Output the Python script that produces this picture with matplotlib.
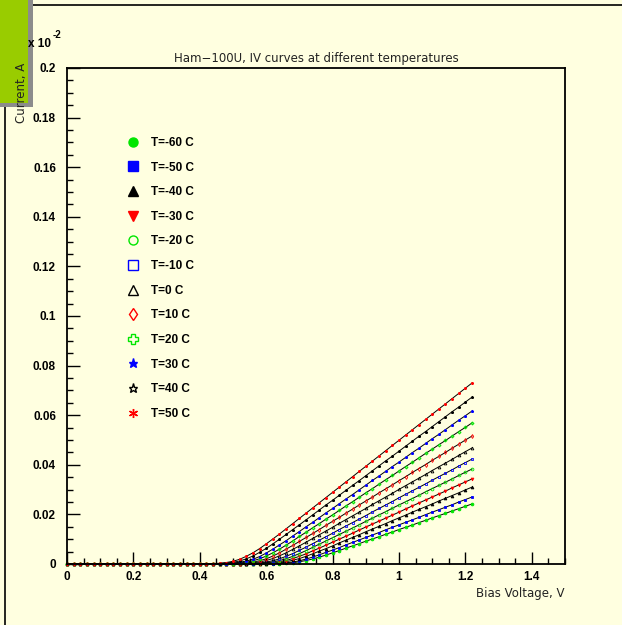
import matplotlib.pyplot as plt
from matplotlib.lines import Line2D
from matplotlib.patches import Rectangle
from matplotlib.ticker import MultipleLocator, FormatStrFormatter

# bias scan points, V
bias_v = [
    0.00, 0.02, 0.04, 0.06, 0.08, 0.10, 0.12, 0.14, 0.16, 0.18,
    0.20, 0.22, 0.24, 0.26, 0.28, 0.30, 0.32, 0.34, 0.36, 0.38,
    0.40, 0.42, 0.44, 0.46, 0.48, 0.50, 0.52, 0.54, 0.56, 0.58,
    0.60, 0.62, 0.64, 0.66, 0.68, 0.70, 0.72, 0.74, 0.76, 0.78,
    0.80, 0.82, 0.84, 0.86, 0.88, 0.90, 0.92, 0.94, 0.96, 0.98,
    1.00, 1.02, 1.04, 1.06, 1.08, 1.10, 1.12, 1.14, 1.16, 1.18,
    1.20, 1.22,
]

# current in units of 1e-2 A, one list per temperature
cur_m60 = [
    0, 0, 0, 0, 0, 0, 0, 0, 0, 0,
    0, 0, 0, 0, 0, 0, 0, 0, 0, 0,
    0, 0, 0, 0, 0, 0, 0, 0, 0, 0,
    0, 0.0001, 0.0002, 0.0003, 0.0005, 0.0009, 0.0014, 0.0020, 0.0028, 0.0036,
    0.0045, 0.0054, 0.0064, 0.0073, 0.0082, 0.0092, 0.0101, 0.0110, 0.0120, 0.0129,
    0.0139, 0.0148, 0.0157, 0.0167, 0.0176, 0.0186, 0.0195, 0.0204, 0.0214, 0.0223,
    0.0233, 0.0242,
]
cur_m50 = [
    0, 0, 0, 0, 0, 0, 0, 0, 0, 0,
    0, 0, 0, 0, 0, 0, 0, 0, 0, 0,
    0, 0, 0, 0, 0, 0, 0, 0, 0, 0,
    0.0001, 0.0001, 0.0003, 0.0005, 0.0008, 0.0013, 0.0020, 0.0028, 0.0037, 0.0047,
    0.0056, 0.0066, 0.0077, 0.0087, 0.0097, 0.0107, 0.0117, 0.0127, 0.0138, 0.0148,
    0.0158, 0.0168, 0.0178, 0.0188, 0.0199, 0.0209, 0.0219, 0.0229, 0.0239, 0.0250,
    0.0260, 0.0270,
]
cur_m40 = [
    0, 0, 0, 0, 0, 0, 0, 0, 0, 0,
    0, 0, 0, 0, 0, 0, 0, 0, 0, 0,
    0, 0, 0, 0, 0, 0, 0, 0, 0, 0.0001,
    0.0002, 0.0003, 0.0005, 0.0009, 0.0015, 0.0022, 0.0031, 0.0041, 0.0052, 0.0062,
    0.0073, 0.0085, 0.0096, 0.0107, 0.0118, 0.0130, 0.0141, 0.0152, 0.0163, 0.0175,
    0.0186, 0.0197, 0.0209, 0.0220, 0.0231, 0.0242, 0.0254, 0.0265, 0.0276, 0.0287,
    0.0299, 0.0310,
]
cur_m30 = [
    0, 0, 0, 0, 0, 0, 0, 0, 0, 0,
    0, 0, 0, 0, 0, 0, 0, 0, 0, 0,
    0, 0, 0, 0, 0, 0, 0, 0, 0.0001, 0.0001,
    0.0003, 0.0005, 0.0009, 0.0014, 0.0022, 0.0031, 0.0041, 0.0053, 0.0064, 0.0076,
    0.0088, 0.0100, 0.0112, 0.0124, 0.0137, 0.0149, 0.0161, 0.0173, 0.0185, 0.0197,
    0.0209, 0.0222, 0.0234, 0.0246, 0.0258, 0.0270, 0.0282, 0.0294, 0.0307, 0.0319,
    0.0331, 0.0343,
]
cur_m20 = [
    0, 0, 0, 0, 0, 0, 0, 0, 0, 0,
    0, 0, 0, 0, 0, 0, 0, 0, 0, 0,
    0, 0, 0, 0, 0, 0, 0, 0.0001, 0.0001, 0.0003,
    0.0005, 0.0008, 0.0014, 0.0021, 0.0031, 0.0042, 0.0054, 0.0067, 0.0080, 0.0093,
    0.0106, 0.0119, 0.0132, 0.0145, 0.0158, 0.0172, 0.0185, 0.0198, 0.0211, 0.0225,
    0.0238, 0.0251, 0.0264, 0.0277, 0.0291, 0.0304, 0.0317, 0.0330, 0.0343, 0.0357,
    0.0370, 0.0383,
]
cur_m10 = [
    0, 0, 0, 0, 0, 0, 0, 0, 0, 0,
    0, 0, 0, 0, 0, 0, 0, 0, 0, 0,
    0, 0, 0, 0, 0, 0, 0.0001, 0.0001, 0.0002, 0.0004,
    0.0008, 0.0013, 0.0021, 0.0031, 0.0042, 0.0055, 0.0068, 0.0082, 0.0096, 0.0110,
    0.0124, 0.0139, 0.0153, 0.0167, 0.0181, 0.0195, 0.0210, 0.0224, 0.0238, 0.0252,
    0.0267, 0.0281, 0.0295, 0.0309, 0.0323, 0.0338, 0.0352, 0.0366, 0.0380, 0.0395,
    0.0409, 0.0423,
]
cur_0 = [
    0, 0, 0, 0, 0, 0, 0, 0, 0, 0,
    0, 0, 0, 0, 0, 0, 0, 0, 0, 0,
    0, 0, 0, 0, 0, 0.0001, 0.0001, 0.0002, 0.0005, 0.0008,
    0.0014, 0.0022, 0.0033, 0.0045, 0.0059, 0.0073, 0.0088, 0.0103, 0.0118, 0.0133,
    0.0148, 0.0164, 0.0179, 0.0194, 0.0209, 0.0224, 0.0240, 0.0255, 0.0270, 0.0285,
    0.0301, 0.0316, 0.0331, 0.0346, 0.0361, 0.0377, 0.0392, 0.0407, 0.0422, 0.0438,
    0.0453, 0.0468,
]
cur_p10 = [
    0, 0, 0, 0, 0, 0, 0, 0, 0, 0,
    0, 0, 0, 0, 0, 0, 0, 0, 0, 0,
    0, 0, 0, 0, 0.0001, 0.0001, 0.0002, 0.0004, 0.0008, 0.0013,
    0.0021, 0.0032, 0.0045, 0.0060, 0.0075, 0.0091, 0.0107, 0.0123, 0.0139, 0.0156,
    0.0172, 0.0188, 0.0205, 0.0221, 0.0238, 0.0254, 0.0270, 0.0287, 0.0303, 0.0319,
    0.0336, 0.0352, 0.0369, 0.0385, 0.0401, 0.0418, 0.0434, 0.0450, 0.0467, 0.0483,
    0.0500, 0.0516,
]
cur_p20 = [
    0, 0, 0, 0, 0, 0, 0, 0, 0, 0,
    0, 0, 0, 0, 0, 0, 0, 0, 0, 0,
    0, 0, 0, 0.0001, 0.0001, 0.0002, 0.0004, 0.0007, 0.0013, 0.0021,
    0.0032, 0.0045, 0.0060, 0.0076, 0.0093, 0.0111, 0.0128, 0.0146, 0.0163, 0.0181,
    0.0198, 0.0216, 0.0234, 0.0251, 0.0269, 0.0287, 0.0304, 0.0322, 0.0340, 0.0357,
    0.0375, 0.0393, 0.0410, 0.0428, 0.0446, 0.0463, 0.0481, 0.0498, 0.0516, 0.0534,
    0.0551, 0.0569,
]
cur_p30 = [
    0, 0, 0, 0, 0, 0, 0, 0, 0, 0,
    0, 0, 0, 0, 0, 0, 0, 0, 0, 0,
    0, 0, 0.0001, 0.0001, 0.0002, 0.0004, 0.0007, 0.0012, 0.0019, 0.0030,
    0.0044, 0.0060, 0.0077, 0.0094, 0.0113, 0.0131, 0.0150, 0.0168, 0.0187, 0.0206,
    0.0224, 0.0243, 0.0262, 0.0280, 0.0299, 0.0318, 0.0337, 0.0355, 0.0374, 0.0393,
    0.0411, 0.0430, 0.0449, 0.0467, 0.0486, 0.0505, 0.0523, 0.0542, 0.0561, 0.0580,
    0.0598, 0.0617,
]
cur_p40 = [
    0, 0, 0, 0, 0, 0, 0, 0, 0, 0,
    0, 0, 0, 0, 0, 0, 0, 0, 0, 0,
    0, 0.0001, 0.0001, 0.0002, 0.0004, 0.0007, 0.0012, 0.0021, 0.0032, 0.0047,
    0.0063, 0.0081, 0.0100, 0.0119, 0.0139, 0.0158, 0.0178, 0.0198, 0.0218, 0.0238,
    0.0257, 0.0277, 0.0297, 0.0317, 0.0336, 0.0356, 0.0376, 0.0396, 0.0416, 0.0435,
    0.0455, 0.0475, 0.0495, 0.0515, 0.0534, 0.0554, 0.0574, 0.0594, 0.0614, 0.0633,
    0.0653, 0.0673,
]
cur_p50 = [
    0, 0, 0, 0, 0, 0, 0, 0, 0, 0,
    0, 0, 0, 0, 0, 0, 0, 0, 0, 0,
    0, 0.0001, 0.0002, 0.0003, 0.0006, 0.0011, 0.0019, 0.0031, 0.0045, 0.0062,
    0.0081, 0.0101, 0.0121, 0.0142, 0.0163, 0.0184, 0.0205, 0.0226, 0.0247, 0.0268,
    0.0289, 0.0310, 0.0331, 0.0352, 0.0373, 0.0394, 0.0415, 0.0436, 0.0457, 0.0478,
    0.0499, 0.0520, 0.0541, 0.0562, 0.0583, 0.0604, 0.0625, 0.0646, 0.0667, 0.0688,
    0.0709, 0.0730,
]

temps = [-60, -50, -40, -30, -20, -10, 0, 10, 20, 30, 40, 50]
currents = [cur_m60, cur_m50, cur_m40, cur_m30, cur_m20, cur_m10,
            cur_0, cur_p10, cur_p20, cur_p30, cur_p40, cur_p50]

GREEN = '#00e600'
BLUE = '#0000ff'
RED = '#ff0000'
BLACK = '#000000'
colors = [GREEN, BLUE, BLACK, RED, GREEN, BLUE, BLACK, RED, GREEN, BLUE, BLACK, RED]
markers = ['o', 's', '^', 'v', 'o', 's', '^', 'd', 'P', '*', '*', (6, 2, 0)]
filled = [True, True, True, True, False, False, False, False, False, True, False, True]

BG = '#ffffe0'
plt.rcParams['font.family'] = ['Liberation Sans', 'DejaVu Sans']

fig = plt.figure(figsize=(6.22, 6.25), dpi=100, facecolor=BG)
ax = fig.add_axes([67 / 622, 61 / 625, 498 / 622, 496 / 625], facecolor=BG)

for t, cur, c, m, f in zip(temps, currents, colors, markers, filled):
    ax.plot(bias_v, cur, color='black', lw=0.7, marker=m, ms=2.0,
            mfc=c if f else 'none', mec=c, mew=0.6, clip_on=False)

ax.set_xlim(0, 1.5)
ax.set_ylim(0, 0.2)
ax.xaxis.set_major_locator(MultipleLocator(0.2))
ax.xaxis.set_minor_locator(MultipleLocator(0.05))
ax.yaxis.set_major_locator(MultipleLocator(0.02))
ax.yaxis.set_minor_locator(MultipleLocator(0.005))
ax.xaxis.set_major_formatter(FormatStrFormatter('%g'))
ax.yaxis.set_major_formatter(FormatStrFormatter('%g'))
ax.tick_params(which='both', direction='in', top=False, right=False, width=1.0,
               labelsize=8.5)
ax.tick_params(which='major', length=9)
ax.tick_params(which='minor', length=4.5)
ax.tick_params(axis='y', pad=8)
ax.tick_params(axis='x', pad=5)
for lab in ax.get_xticklabels() + ax.get_yticklabels():
    lab.set_fontweight('bold')
for sp in ax.spines.values():
    sp.set_linewidth(1.3)

# legend keys
handles = []
for t, c, m, f in zip(temps, colors, markers, filled):
    handles.append(Line2D([], [], ls='none', marker=m, ms=6.5,
                          mfc=c if f else 'none', mec=c, mew=1.0,
                          label='T=%d C' % t))
ax.legend(handles=handles, loc='upper left', bbox_to_anchor=(0.1205, 0.861),
          frameon=False, borderpad=0, borderaxespad=0, handlelength=1.0,
          handletextpad=1.0, labelspacing=1.07,
          prop={'weight': 'bold', 'size': 8.5})

# titles and axis captions
fig.text(316 / 622, 1 - 62 / 625, 'Ham\u2212100U, IV curves at different temperatures',
         ha='center', va='baseline', fontsize=8.5, family='DejaVu Sans',
         color='#222222')
fig.text(565 / 622, 1 - 597 / 625, 'Bias Voltage, V', ha='right', va='baseline',
         fontsize=8.5, family='DejaVu Sans', color='#222222', zorder=5)
fig.text(21 / 622, 1 - 63 / 625, 'Current, A', rotation=90, ha='center', va='top',
         fontsize=8.5, family='DejaVu Sans', color='#222222', zorder=5)
fig.text(28 / 622, 1 - 47 / 625, 'x 10', ha='left', va='baseline',
         fontsize=8.5, fontweight='bold', zorder=5)
fig.text(53 / 622, 1 - 38 / 625, '-2', ha='left', va='baseline',
         fontsize=7, fontweight='bold', zorder=5)

# canvas frame and the corner tab
fig.add_artist(Rectangle((5 / 622, -0.2), 2, 1.2 - 5 / 625, transform=fig.transFigure,
                         fill=False, ec='black', lw=1.2, zorder=1))
fig.add_artist(Rectangle((0, 1 - 107 / 625), 33 / 622, 107 / 625, transform=fig.transFigure,
                         fc='#8c8c8c', ec='none', zorder=2))
fig.add_artist(Rectangle((0, 1 - 103 / 625), 28 / 622, 103 / 625, transform=fig.transFigure,
                         fc='#99cc00', ec='none', zorder=2))

fig.savefig('out.png', dpi=100, facecolor=BG)
